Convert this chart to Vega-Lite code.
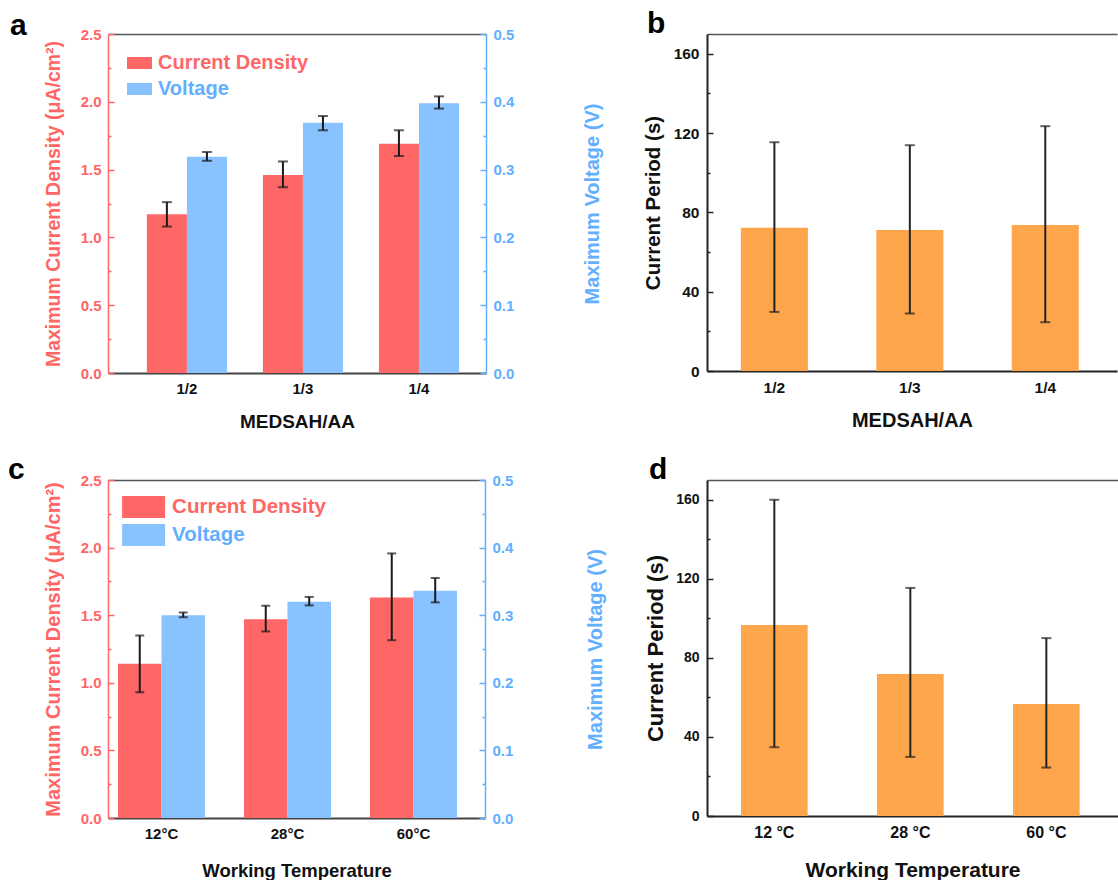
{
  "$schema": "https://vega.github.io/schema/vega-lite/v6.json",
  "padding": {"left": 8, "top": 9, "right": 0, "bottom": 0},
  "config": {"font": "Liberation Sans", "view": {"stroke": null}, "axis": {"grid": false}},
  "datasets": {
    "ab": [
      {"ratio": "1/2", "series": "Current Density", "value": 1.17, "lo": 1.08, "hi": 1.26},
      {"ratio": "1/2", "series": "Voltage", "value": 0.319, "lo": 0.313, "hi": 0.326},
      {"ratio": "1/3", "series": "Current Density", "value": 1.46, "lo": 1.37, "hi": 1.56},
      {"ratio": "1/3", "series": "Voltage", "value": 0.369, "lo": 0.358, "hi": 0.379},
      {"ratio": "1/4", "series": "Current Density", "value": 1.69, "lo": 1.6, "hi": 1.79},
      {"ratio": "1/4", "series": "Voltage", "value": 0.398, "lo": 0.39, "hi": 0.408}
    ],
    "p1": [
      {"ratio": "1/2", "value": 72.3, "lo": 29.8, "hi": 115.4},
      {"ratio": "1/3", "value": 71.1, "lo": 29.0, "hi": 113.9},
      {"ratio": "1/4", "value": 73.6, "lo": 24.6, "hi": 123.5}
    ],
    "cd": [
      {"temp": "12°C", "series": "Current Density", "value": 1.14, "lo": 0.93, "hi": 1.35},
      {"temp": "12°C", "series": "Voltage", "value": 0.3, "lo": 0.297, "hi": 0.304},
      {"temp": "28°C", "series": "Current Density", "value": 1.47, "lo": 1.38, "hi": 1.57},
      {"temp": "28°C", "series": "Voltage", "value": 0.32, "lo": 0.3145, "hi": 0.327},
      {"temp": "60°C", "series": "Current Density", "value": 1.63, "lo": 1.315, "hi": 1.957},
      {"temp": "60°C", "series": "Voltage", "value": 0.336, "lo": 0.319, "hi": 0.355}
    ],
    "p2": [
      {"temp": "12 °C", "value": 96.7, "lo": 34.8, "hi": 160},
      {"temp": "28 °C", "value": 71.9, "lo": 29.9, "hi": 115.4},
      {"temp": "60 °C", "value": 56.7, "lo": 24.5, "hi": 90}
    ]
  },
  "resolve": {"scale": {"color": "independent", "x": "independent", "y": "independent", "xOffset": "independent"}, "legend": {"color": "independent"}},
  "spacing": 24,
  "vconcat": [
    {
      "spacing": 40,
      "resolve": {"scale": {"color": "independent", "x": "independent", "y": "independent", "xOffset": "independent"}, "legend": {"color": "independent"}},
      "hconcat": [
        {
          "width": 378, "height": 339,
          "title": {"text": "a", "anchor": "start", "frame": "group", "fontSize": 30, "fontWeight": "bold", "color": "#000", "dx": -98, "baseline": "alphabetic", "offset": -38},
          "data": {"name": "ab"},
          "resolve": {"scale": {"y": "independent"}, "axis": {"x": "independent", "y": "independent"}},
          "layer": [
            {
              "transform": [{"filter": "datum.series === 'Current Density'"}],
              "encoding": {
                "x": {"field": "ratio", "type": "nominal", "sort": ["1/2", "1/3", "1/4"], "scale": {"paddingInner": 0.31, "paddingOuter": 0.284, "align": 0.59},
                  "axis": {"orient": "bottom", "title": "MEDSAH/AA", "labelAngle": 0, "ticks": false, "labelPadding": 8, "labelFontSize": 15, "labelFontWeight": "bold", "labelColor": "#111", "domainColor": "#444", "domainWidth": 2, "titleFontSize": 19, "titleFontWeight": "bold", "titleColor": "#111", "titlePadding": 16}},
                "xOffset": {"field": "series", "type": "nominal", "scale": {"domain": ["Current Density", "Voltage"]}}
              },
              "layer": [
                {
                  "mark": {"type": "bar"},
                  "encoding": {
                    "y": {"field": "value", "type": "quantitative", "scale": {"domain": [0, 2.5], "nice": false},
                      "axis": {"orient": "left", "title": "Maximum Current Density  (μA/cm²)", "values": [0, 0.25, 0.5, 0.75, 1, 1.25, 1.5, 1.75, 2, 2.25, 2.5], "labelExpr": "abs(datum.value*2 - round(datum.value*2)) < 0.001 ? format(datum.value, '.1f') : ''", "tickSize": {"condition": {"test": "abs(datum.value*2 - round(datum.value*2)) < 0.001", "value": -6}, "value": -3}, "tickWidth": 1.5, "tickColor": "#FF6666", "domainColor": "#FF6666", "domainWidth": 1.5, "labelColor": "#FF6666", "labelFontSize": 15, "labelFontWeight": "bold", "labelPadding": 13, "titleColor": "#FF6666", "titleFontSize": 19.5, "titleFontWeight": "bold", "titlePadding": 17}},
                    "color": {"field": "series", "type": "nominal", "scale": {"domain": ["Current Density", "Voltage"], "range": ["#FF6666", "#88C2FF"]},
                      "legend": {"orient": "none", "legendX": 19, "legendY": 16.5, "title": null, "direction": "vertical", "symbolType": "M-1,-0.48H1V0.48H-1Z", "symbolSize": 625, "symbolStrokeWidth": 0, "labelFontSize": 20, "labelFontWeight": "bold", "labelOffset": 6, "rowPadding": 3, "padding": 0, "labelLimit": 300,
                        "encode": {"labels": {"update": {"fill": {"signal": "datum.label === 'Voltage' ? '#62AEFF' : '#FF6666'"}}}}}}
                  }
                },
                {"mark": {"type": "rule", "color": "#1a1a1a", "strokeWidth": 2}, "encoding": {"y": {"field": "lo", "type": "quantitative", "scale": {"domain": [0, 2.5], "nice": false},
                      "axis": {"orient": "left", "title": "Maximum Current Density  (μA/cm²)", "values": [0, 0.25, 0.5, 0.75, 1, 1.25, 1.5, 1.75, 2, 2.25, 2.5], "labelExpr": "abs(datum.value*2 - round(datum.value*2)) < 0.001 ? format(datum.value, '.1f') : ''", "tickSize": {"condition": {"test": "abs(datum.value*2 - round(datum.value*2)) < 0.001", "value": -6}, "value": -3}, "tickWidth": 1.5, "tickColor": "#FF6666", "domainColor": "#FF6666", "domainWidth": 1.5, "labelColor": "#FF6666", "labelFontSize": 15, "labelFontWeight": "bold", "labelPadding": 13, "titleColor": "#FF6666", "titleFontSize": 19.5, "titleFontWeight": "bold", "titlePadding": 17}}, "y2": {"field": "hi"}}},
                {"mark": {"type": "tick", "color": "#1a1a1a", "thickness": 2, "size": 10}, "encoding": {"y": {"field": "lo", "type": "quantitative", "scale": {"domain": [0, 2.5], "nice": false},
                      "axis": {"orient": "left", "title": "Maximum Current Density  (μA/cm²)", "values": [0, 0.25, 0.5, 0.75, 1, 1.25, 1.5, 1.75, 2, 2.25, 2.5], "labelExpr": "abs(datum.value*2 - round(datum.value*2)) < 0.001 ? format(datum.value, '.1f') : ''", "tickSize": {"condition": {"test": "abs(datum.value*2 - round(datum.value*2)) < 0.001", "value": -6}, "value": -3}, "tickWidth": 1.5, "tickColor": "#FF6666", "domainColor": "#FF6666", "domainWidth": 1.5, "labelColor": "#FF6666", "labelFontSize": 15, "labelFontWeight": "bold", "labelPadding": 13, "titleColor": "#FF6666", "titleFontSize": 19.5, "titleFontWeight": "bold", "titlePadding": 17}}}},
                {"mark": {"type": "tick", "color": "#1a1a1a", "thickness": 2, "size": 10}, "encoding": {"y": {"field": "hi", "type": "quantitative", "scale": {"domain": [0, 2.5], "nice": false},
                      "axis": {"orient": "left", "title": "Maximum Current Density  (μA/cm²)", "values": [0, 0.25, 0.5, 0.75, 1, 1.25, 1.5, 1.75, 2, 2.25, 2.5], "labelExpr": "abs(datum.value*2 - round(datum.value*2)) < 0.001 ? format(datum.value, '.1f') : ''", "tickSize": {"condition": {"test": "abs(datum.value*2 - round(datum.value*2)) < 0.001", "value": -6}, "value": -3}, "tickWidth": 1.5, "tickColor": "#FF6666", "domainColor": "#FF6666", "domainWidth": 1.5, "labelColor": "#FF6666", "labelFontSize": 15, "labelFontWeight": "bold", "labelPadding": 13, "titleColor": "#FF6666", "titleFontSize": 19.5, "titleFontWeight": "bold", "titlePadding": 17}}}}
              ]
            },
            {
              "transform": [{"filter": "datum.series === 'Voltage'"}],
              "encoding": {
                "x": {"field": "ratio", "type": "nominal", "sort": ["1/2", "1/3", "1/4"], "scale": {"paddingInner": 0.31, "paddingOuter": 0.284, "align": 0.59},
                  "axis": {"orient": "top", "labels": false, "ticks": false, "title": null, "domainColor": "#555", "domainWidth": 1.5}},
                "xOffset": {"field": "series", "type": "nominal", "scale": {"domain": ["Current Density", "Voltage"]}}
              },
              "layer": [
                {
                  "mark": {"type": "bar"},
                  "encoding": {
                    "y": {"field": "value", "type": "quantitative", "scale": {"domain": [0, 0.5], "nice": false},
                      "axis": {"orient": "right", "title": "Maximum Voltage (V)", "titleAngle": 270, "values": [0, 0.05, 0.1, 0.15, 0.2, 0.25, 0.3, 0.35, 0.4, 0.45, 0.5], "labelExpr": "abs(datum.value*10 - round(datum.value*10)) < 0.001 ? format(datum.value, '.1f') : ''", "tickSize": {"condition": {"test": "abs(datum.value*10 - round(datum.value*10)) < 0.001", "value": -6}, "value": -3}, "tickWidth": 1.5, "tickColor": "#62AEFF", "domainColor": "#62AEFF", "domainWidth": 1.5, "labelColor": "#62AEFF", "labelFontSize": 15, "labelFontWeight": "bold", "labelPadding": 13, "titleColor": "#62AEFF", "titleFontSize": 20, "titleFontWeight": "bold", "titlePadding": 89}},
                    "color": {"field": "series", "type": "nominal", "scale": {"domain": ["Current Density", "Voltage"], "range": ["#FF6666", "#88C2FF"]},
                      "legend": {"orient": "none", "legendX": 19, "legendY": 16.5, "title": null, "direction": "vertical", "symbolType": "M-1,-0.48H1V0.48H-1Z", "symbolSize": 625, "symbolStrokeWidth": 0, "labelFontSize": 20, "labelFontWeight": "bold", "labelOffset": 6, "rowPadding": 3, "padding": 0, "labelLimit": 300,
                        "encode": {"labels": {"update": {"fill": {"signal": "datum.label === 'Voltage' ? '#62AEFF' : '#FF6666'"}}}}}}
                  }
                },
                {"mark": {"type": "rule", "color": "#1a1a1a", "strokeWidth": 2}, "encoding": {"y": {"field": "lo", "type": "quantitative", "scale": {"domain": [0, 0.5], "nice": false},
                      "axis": {"orient": "right", "title": "Maximum Voltage (V)", "titleAngle": 270, "values": [0, 0.05, 0.1, 0.15, 0.2, 0.25, 0.3, 0.35, 0.4, 0.45, 0.5], "labelExpr": "abs(datum.value*10 - round(datum.value*10)) < 0.001 ? format(datum.value, '.1f') : ''", "tickSize": {"condition": {"test": "abs(datum.value*10 - round(datum.value*10)) < 0.001", "value": -6}, "value": -3}, "tickWidth": 1.5, "tickColor": "#62AEFF", "domainColor": "#62AEFF", "domainWidth": 1.5, "labelColor": "#62AEFF", "labelFontSize": 15, "labelFontWeight": "bold", "labelPadding": 13, "titleColor": "#62AEFF", "titleFontSize": 20, "titleFontWeight": "bold", "titlePadding": 89}}, "y2": {"field": "hi"}}},
                {"mark": {"type": "tick", "color": "#1a1a1a", "thickness": 2, "size": 10}, "encoding": {"y": {"field": "lo", "type": "quantitative", "scale": {"domain": [0, 0.5], "nice": false},
                      "axis": {"orient": "right", "title": "Maximum Voltage (V)", "titleAngle": 270, "values": [0, 0.05, 0.1, 0.15, 0.2, 0.25, 0.3, 0.35, 0.4, 0.45, 0.5], "labelExpr": "abs(datum.value*10 - round(datum.value*10)) < 0.001 ? format(datum.value, '.1f') : ''", "tickSize": {"condition": {"test": "abs(datum.value*10 - round(datum.value*10)) < 0.001", "value": -6}, "value": -3}, "tickWidth": 1.5, "tickColor": "#62AEFF", "domainColor": "#62AEFF", "domainWidth": 1.5, "labelColor": "#62AEFF", "labelFontSize": 15, "labelFontWeight": "bold", "labelPadding": 13, "titleColor": "#62AEFF", "titleFontSize": 20, "titleFontWeight": "bold", "titlePadding": 89}}}},
                {"mark": {"type": "tick", "color": "#1a1a1a", "thickness": 2, "size": 10}, "encoding": {"y": {"field": "hi", "type": "quantitative", "scale": {"domain": [0, 0.5], "nice": false},
                      "axis": {"orient": "right", "title": "Maximum Voltage (V)", "titleAngle": 270, "values": [0, 0.05, 0.1, 0.15, 0.2, 0.25, 0.3, 0.35, 0.4, 0.45, 0.5], "labelExpr": "abs(datum.value*10 - round(datum.value*10)) < 0.001 ? format(datum.value, '.1f') : ''", "tickSize": {"condition": {"test": "abs(datum.value*10 - round(datum.value*10)) < 0.001", "value": -6}, "value": -3}, "tickWidth": 1.5, "tickColor": "#62AEFF", "domainColor": "#62AEFF", "domainWidth": 1.5, "labelColor": "#62AEFF", "labelFontSize": 15, "labelFontWeight": "bold", "labelPadding": 13, "titleColor": "#62AEFF", "titleFontSize": 20, "titleFontWeight": "bold", "titlePadding": 89}}}}
              ]
            }
          ]
        },
        {
          "width": 410, "height": 337,
          "title": {"text": "b", "anchor": "start", "frame": "group", "fontSize": 30, "fontWeight": "bold", "color": "#000", "dx": -60, "baseline": "alphabetic", "offset": -29},
          "data": {"name": "p1"},
          "resolve": {"axis": {"x": "independent"}},
          "encoding": {
            "y": {"field": "value", "type": "quantitative", "scale": {"domain": [0, 170], "nice": false},
              "axis": {"orient": "left", "title": "Current Period (s)", "values": [0, 20, 40, 60, 80, 100, 120, 140, 160], "labelExpr": "datum.value % 40 === 0 ? datum.label : ''", "tickSize": {"condition": {"test": "datum.value % 40 === 0", "value": -6}, "value": -3}, "tickWidth": 1.5, "tickColor": "#222", "domainColor": "#222", "domainWidth": 2, "labelColor": "#111", "labelFontSize": 15.5, "labelFontWeight": "bold", "labelPadding": 14, "titleColor": "#111", "titleFontSize": 20.5, "titleFontWeight": "bold", "titlePadding": 10}}
          },
          "layer": [
            {
              "mark": {"type": "bar", "color": "#FFA64D"},
              "encoding": {
                "x": {"field": "ratio", "type": "nominal", "sort": ["1/2", "1/3", "1/4"], "scale": {"paddingInner": 0.505, "paddingOuter": 0.266, "align": 0.47},
                  "axis": {"orient": "bottom", "title": "MEDSAH/AA", "labelAngle": 0, "ticks": false, "labelPadding": 9, "labelFontSize": 15.5, "labelFontWeight": "bold", "labelColor": "#111", "domainColor": "#222", "domainWidth": 2, "titleFontSize": 20, "titleFontWeight": "bold", "titleColor": "#111", "titlePadding": 15}}
              }
            },
            {
              "encoding": {
                "x": {"field": "ratio", "type": "nominal", "sort": ["1/2", "1/3", "1/4"], "scale": {"paddingInner": 0.505, "paddingOuter": 0.266, "align": 0.47},
                  "axis": {"orient": "top", "labels": false, "ticks": false, "title": null, "domainColor": "#555", "domainWidth": 1.5}},
                "y": {"field": "lo", "type": "quantitative", "scale": {"domain": [0, 170], "nice": false},
                  "axis": {"orient": "left", "title": "Current Period (s)", "values": [0, 20, 40, 60, 80, 100, 120, 140, 160], "labelExpr": "datum.value % 40 === 0 ? datum.label : ''", "tickSize": {"condition": {"test": "datum.value % 40 === 0", "value": -6}, "value": -3}, "tickWidth": 1.5, "tickColor": "#222", "domainColor": "#222", "domainWidth": 2, "labelColor": "#111", "labelFontSize": 15.5, "labelFontWeight": "bold", "labelPadding": 14, "titleColor": "#111", "titleFontSize": 20.5, "titleFontWeight": "bold", "titlePadding": 10}}
              },
              "layer": [
                {"mark": {"type": "rule", "color": "#222", "strokeWidth": 2}, "encoding": {"y2": {"field": "hi"}}},
                {"mark": {"type": "tick", "color": "#222", "thickness": 2, "size": 10}},
                {"mark": {"type": "tick", "color": "#222", "thickness": 2, "size": 10}, "encoding": {"y": {"field": "hi", "type": "quantitative", "scale": {"domain": [0, 170], "nice": false},
                  "axis": {"orient": "left", "title": "Current Period (s)", "values": [0, 20, 40, 60, 80, 100, 120, 140, 160], "labelExpr": "datum.value % 40 === 0 ? datum.label : ''", "tickSize": {"condition": {"test": "datum.value % 40 === 0", "value": -6}, "value": -3}, "tickWidth": 1.5, "tickColor": "#222", "domainColor": "#222", "domainWidth": 2, "labelColor": "#111", "labelFontSize": 15.5, "labelFontWeight": "bold", "labelPadding": 14, "titleColor": "#111", "titleFontSize": 20.5, "titleFontWeight": "bold", "titlePadding": 10}}}}
              ]
            }
          ]
        }
      ]
    },
    {
      "spacing": 38,
      "resolve": {"scale": {"color": "independent", "x": "independent", "y": "independent", "xOffset": "independent"}, "legend": {"color": "independent"}},
      "hconcat": [
        {
          "width": 377, "height": 338,
          "title": {"text": "c", "anchor": "start", "frame": "group", "fontSize": 30, "fontWeight": "bold", "color": "#000", "dx": -100, "baseline": "alphabetic", "offset": -36},
          "data": {"name": "cd"},
          "resolve": {"scale": {"y": "independent"}, "axis": {"x": "independent", "y": "independent"}},
          "layer": [
            {
              "transform": [{"filter": "datum.series === 'Current Density'"}],
              "encoding": {
                "x": {"field": "temp", "type": "nominal", "sort": ["12°C", "28°C", "60°C"], "scale": {"paddingInner": 0.31, "paddingOuter": 0.151, "align": 0.263},
                  "axis": {"orient": "bottom", "title": "Working Temperature", "labelAngle": 0, "ticks": false, "labelPadding": 8, "labelFontSize": 15, "labelFontWeight": "bold", "labelColor": "#111", "domainColor": "#444", "domainWidth": 2, "titleFontSize": 18.5, "titleFontWeight": "bold", "titleColor": "#111", "titlePadding": 20}},
                "xOffset": {"field": "series", "type": "nominal", "scale": {"domain": ["Current Density", "Voltage"]}}
              },
              "layer": [
                {
                  "mark": {"type": "bar"},
                  "encoding": {
                    "y": {"field": "value", "type": "quantitative", "scale": {"domain": [0, 2.5], "nice": false},
                      "axis": {"orient": "left", "title": "Maximum Current Density (μA/cm²)", "values": [0, 0.25, 0.5, 0.75, 1, 1.25, 1.5, 1.75, 2, 2.25, 2.5], "labelExpr": "abs(datum.value*2 - round(datum.value*2)) < 0.001 ? format(datum.value, '.1f') : ''", "tickSize": {"condition": {"test": "abs(datum.value*2 - round(datum.value*2)) < 0.001", "value": -6}, "value": -3}, "tickWidth": 1.5, "tickColor": "#FF6666", "domainColor": "#FF6666", "domainWidth": 1.5, "labelColor": "#FF6666", "labelFontSize": 15, "labelFontWeight": "bold", "labelPadding": 13, "titleColor": "#FF6666", "titleFontSize": 20, "titleFontWeight": "bold", "titlePadding": 17}},
                    "color": {"field": "series", "type": "nominal", "scale": {"domain": ["Current Density", "Voltage"], "range": ["#FF6666", "#88C2FF"]},
                      "legend": {"orient": "none", "legendX": 23.6, "legendY": 15, "title": null, "direction": "vertical", "symbolType": "M-1.8,-0.92H1.8V0.92H-1.8Z", "symbolSize": 570, "symbolStrokeWidth": 0, "labelFontSize": 20.5, "labelFontWeight": "bold", "labelOffset": 16.5, "rowPadding": 5, "padding": 0, "labelLimit": 300,
                        "encode": {"labels": {"update": {"fill": {"signal": "datum.label === 'Voltage' ? '#62AEFF' : '#FF6666'"}}}}}}
                  }
                },
                {"mark": {"type": "rule", "color": "#1a1a1a", "strokeWidth": 2}, "encoding": {"y": {"field": "lo", "type": "quantitative", "scale": {"domain": [0, 2.5], "nice": false},
                      "axis": {"orient": "left", "title": "Maximum Current Density (μA/cm²)", "values": [0, 0.25, 0.5, 0.75, 1, 1.25, 1.5, 1.75, 2, 2.25, 2.5], "labelExpr": "abs(datum.value*2 - round(datum.value*2)) < 0.001 ? format(datum.value, '.1f') : ''", "tickSize": {"condition": {"test": "abs(datum.value*2 - round(datum.value*2)) < 0.001", "value": -6}, "value": -3}, "tickWidth": 1.5, "tickColor": "#FF6666", "domainColor": "#FF6666", "domainWidth": 1.5, "labelColor": "#FF6666", "labelFontSize": 15, "labelFontWeight": "bold", "labelPadding": 13, "titleColor": "#FF6666", "titleFontSize": 20, "titleFontWeight": "bold", "titlePadding": 17}}, "y2": {"field": "hi"}}},
                {"mark": {"type": "tick", "color": "#1a1a1a", "thickness": 2, "size": 9}, "encoding": {"y": {"field": "lo", "type": "quantitative", "scale": {"domain": [0, 2.5], "nice": false},
                      "axis": {"orient": "left", "title": "Maximum Current Density (μA/cm²)", "values": [0, 0.25, 0.5, 0.75, 1, 1.25, 1.5, 1.75, 2, 2.25, 2.5], "labelExpr": "abs(datum.value*2 - round(datum.value*2)) < 0.001 ? format(datum.value, '.1f') : ''", "tickSize": {"condition": {"test": "abs(datum.value*2 - round(datum.value*2)) < 0.001", "value": -6}, "value": -3}, "tickWidth": 1.5, "tickColor": "#FF6666", "domainColor": "#FF6666", "domainWidth": 1.5, "labelColor": "#FF6666", "labelFontSize": 15, "labelFontWeight": "bold", "labelPadding": 13, "titleColor": "#FF6666", "titleFontSize": 20, "titleFontWeight": "bold", "titlePadding": 17}}}},
                {"mark": {"type": "tick", "color": "#1a1a1a", "thickness": 2, "size": 9}, "encoding": {"y": {"field": "hi", "type": "quantitative", "scale": {"domain": [0, 2.5], "nice": false},
                      "axis": {"orient": "left", "title": "Maximum Current Density (μA/cm²)", "values": [0, 0.25, 0.5, 0.75, 1, 1.25, 1.5, 1.75, 2, 2.25, 2.5], "labelExpr": "abs(datum.value*2 - round(datum.value*2)) < 0.001 ? format(datum.value, '.1f') : ''", "tickSize": {"condition": {"test": "abs(datum.value*2 - round(datum.value*2)) < 0.001", "value": -6}, "value": -3}, "tickWidth": 1.5, "tickColor": "#FF6666", "domainColor": "#FF6666", "domainWidth": 1.5, "labelColor": "#FF6666", "labelFontSize": 15, "labelFontWeight": "bold", "labelPadding": 13, "titleColor": "#FF6666", "titleFontSize": 20, "titleFontWeight": "bold", "titlePadding": 17}}}}
              ]
            },
            {
              "transform": [{"filter": "datum.series === 'Voltage'"}],
              "encoding": {
                "x": {"field": "temp", "type": "nominal", "sort": ["12°C", "28°C", "60°C"], "scale": {"paddingInner": 0.31, "paddingOuter": 0.151, "align": 0.263},
                  "axis": {"orient": "top", "labels": false, "ticks": false, "title": null, "domainColor": "#555", "domainWidth": 1.5}},
                "xOffset": {"field": "series", "type": "nominal", "scale": {"domain": ["Current Density", "Voltage"]}}
              },
              "layer": [
                {
                  "mark": {"type": "bar"},
                  "encoding": {
                    "y": {"field": "value", "type": "quantitative", "scale": {"domain": [0, 0.5], "nice": false},
                      "axis": {"orient": "right", "title": "Maximum Voltage (V)", "titleAngle": 270, "values": [0, 0.05, 0.1, 0.15, 0.2, 0.25, 0.3, 0.35, 0.4, 0.45, 0.5], "labelExpr": "abs(datum.value*10 - round(datum.value*10)) < 0.001 ? format(datum.value, '.1f') : ''", "tickSize": {"condition": {"test": "abs(datum.value*10 - round(datum.value*10)) < 0.001", "value": -6}, "value": -3}, "tickWidth": 1.5, "tickColor": "#62AEFF", "domainColor": "#62AEFF", "domainWidth": 1.5, "labelColor": "#62AEFF", "labelFontSize": 15, "labelFontWeight": "bold", "labelPadding": 13, "titleColor": "#62AEFF", "titleFontSize": 20, "titleFontWeight": "bold", "titlePadding": 93}},
                    "color": {"field": "series", "type": "nominal", "scale": {"domain": ["Current Density", "Voltage"], "range": ["#FF6666", "#88C2FF"]},
                      "legend": {"orient": "none", "legendX": 23.6, "legendY": 15, "title": null, "direction": "vertical", "symbolType": "M-1.8,-0.92H1.8V0.92H-1.8Z", "symbolSize": 570, "symbolStrokeWidth": 0, "labelFontSize": 20.5, "labelFontWeight": "bold", "labelOffset": 16.5, "rowPadding": 5, "padding": 0, "labelLimit": 300,
                        "encode": {"labels": {"update": {"fill": {"signal": "datum.label === 'Voltage' ? '#62AEFF' : '#FF6666'"}}}}}}
                  }
                },
                {"mark": {"type": "rule", "color": "#1a1a1a", "strokeWidth": 2}, "encoding": {"y": {"field": "lo", "type": "quantitative", "scale": {"domain": [0, 0.5], "nice": false},
                      "axis": {"orient": "right", "title": "Maximum Voltage (V)", "titleAngle": 270, "values": [0, 0.05, 0.1, 0.15, 0.2, 0.25, 0.3, 0.35, 0.4, 0.45, 0.5], "labelExpr": "abs(datum.value*10 - round(datum.value*10)) < 0.001 ? format(datum.value, '.1f') : ''", "tickSize": {"condition": {"test": "abs(datum.value*10 - round(datum.value*10)) < 0.001", "value": -6}, "value": -3}, "tickWidth": 1.5, "tickColor": "#62AEFF", "domainColor": "#62AEFF", "domainWidth": 1.5, "labelColor": "#62AEFF", "labelFontSize": 15, "labelFontWeight": "bold", "labelPadding": 13, "titleColor": "#62AEFF", "titleFontSize": 20, "titleFontWeight": "bold", "titlePadding": 93}}, "y2": {"field": "hi"}}},
                {"mark": {"type": "tick", "color": "#1a1a1a", "thickness": 2, "size": 9}, "encoding": {"y": {"field": "lo", "type": "quantitative", "scale": {"domain": [0, 0.5], "nice": false},
                      "axis": {"orient": "right", "title": "Maximum Voltage (V)", "titleAngle": 270, "values": [0, 0.05, 0.1, 0.15, 0.2, 0.25, 0.3, 0.35, 0.4, 0.45, 0.5], "labelExpr": "abs(datum.value*10 - round(datum.value*10)) < 0.001 ? format(datum.value, '.1f') : ''", "tickSize": {"condition": {"test": "abs(datum.value*10 - round(datum.value*10)) < 0.001", "value": -6}, "value": -3}, "tickWidth": 1.5, "tickColor": "#62AEFF", "domainColor": "#62AEFF", "domainWidth": 1.5, "labelColor": "#62AEFF", "labelFontSize": 15, "labelFontWeight": "bold", "labelPadding": 13, "titleColor": "#62AEFF", "titleFontSize": 20, "titleFontWeight": "bold", "titlePadding": 93}}}},
                {"mark": {"type": "tick", "color": "#1a1a1a", "thickness": 2, "size": 9}, "encoding": {"y": {"field": "hi", "type": "quantitative", "scale": {"domain": [0, 0.5], "nice": false},
                      "axis": {"orient": "right", "title": "Maximum Voltage (V)", "titleAngle": 270, "values": [0, 0.05, 0.1, 0.15, 0.2, 0.25, 0.3, 0.35, 0.4, 0.45, 0.5], "labelExpr": "abs(datum.value*10 - round(datum.value*10)) < 0.001 ? format(datum.value, '.1f') : ''", "tickSize": {"condition": {"test": "abs(datum.value*10 - round(datum.value*10)) < 0.001", "value": -6}, "value": -3}, "tickWidth": 1.5, "tickColor": "#62AEFF", "domainColor": "#62AEFF", "domainWidth": 1.5, "labelColor": "#62AEFF", "labelFontSize": 15, "labelFontWeight": "bold", "labelPadding": 13, "titleColor": "#62AEFF", "titleFontSize": 20, "titleFontWeight": "bold", "titlePadding": 93}}}}
              ]
            }
          ]
        },
        {
          "width": 411, "height": 336,
          "title": {"text": "d", "anchor": "start", "frame": "group", "fontSize": 30, "fontWeight": "bold", "color": "#000", "dx": -58, "baseline": "alphabetic", "offset": -29},
          "data": {"name": "p2"},
          "resolve": {"axis": {"x": "independent"}},
          "encoding": {
            "y": {"field": "value", "type": "quantitative", "scale": {"domain": [0, 170], "nice": false},
              "axis": {"orient": "left", "title": "Current Period (s)", "values": [0, 20, 40, 60, 80, 100, 120, 140, 160], "labelExpr": "datum.value % 40 === 0 ? datum.label : ''", "tickSize": {"condition": {"test": "datum.value % 40 === 0", "value": -6}, "value": -3}, "tickWidth": 1.5, "tickColor": "#222", "domainColor": "#222", "domainWidth": 2, "labelColor": "#111", "labelFontSize": 14, "labelFontWeight": "bold", "labelPadding": 14, "titleColor": "#111", "titleFontSize": 22, "titleFontWeight": "bold", "titlePadding": 8}}
          },
          "layer": [
            {
              "mark": {"type": "bar", "color": "#FFA64D"},
              "encoding": {
                "x": {"field": "temp", "type": "nominal", "sort": ["12 °C", "28 °C", "60 °C"], "scale": {"paddingInner": 0.51, "paddingOuter": 0.266, "align": 0.47},
                  "axis": {"orient": "bottom", "title": "Working Temperature", "labelAngle": 0, "ticks": false, "labelPadding": 8, "labelFontSize": 16, "labelFontWeight": "bold", "labelColor": "#111", "domainColor": "#222", "domainWidth": 2, "titleFontSize": 21, "titleFontWeight": "bold", "titleColor": "#111", "titlePadding": 19}}
              }
            },
            {
              "encoding": {
                "x": {"field": "temp", "type": "nominal", "sort": ["12 °C", "28 °C", "60 °C"], "scale": {"paddingInner": 0.51, "paddingOuter": 0.266, "align": 0.47},
                  "axis": {"orient": "top", "labels": false, "ticks": false, "title": null, "domainColor": "#555", "domainWidth": 1.5}},
                "y": {"field": "lo", "type": "quantitative", "scale": {"domain": [0, 170], "nice": false},
                  "axis": {"orient": "left", "title": "Current Period (s)", "values": [0, 20, 40, 60, 80, 100, 120, 140, 160], "labelExpr": "datum.value % 40 === 0 ? datum.label : ''", "tickSize": {"condition": {"test": "datum.value % 40 === 0", "value": -6}, "value": -3}, "tickWidth": 1.5, "tickColor": "#222", "domainColor": "#222", "domainWidth": 2, "labelColor": "#111", "labelFontSize": 14, "labelFontWeight": "bold", "labelPadding": 14, "titleColor": "#111", "titleFontSize": 22, "titleFontWeight": "bold", "titlePadding": 8}}
              },
              "layer": [
                {"mark": {"type": "rule", "color": "#222", "strokeWidth": 2}, "encoding": {"y2": {"field": "hi"}}},
                {"mark": {"type": "tick", "color": "#222", "thickness": 2, "size": 10}},
                {"mark": {"type": "tick", "color": "#222", "thickness": 2, "size": 10}, "encoding": {"y": {"field": "hi", "type": "quantitative", "scale": {"domain": [0, 170], "nice": false},
                  "axis": {"orient": "left", "title": "Current Period (s)", "values": [0, 20, 40, 60, 80, 100, 120, 140, 160], "labelExpr": "datum.value % 40 === 0 ? datum.label : ''", "tickSize": {"condition": {"test": "datum.value % 40 === 0", "value": -6}, "value": -3}, "tickWidth": 1.5, "tickColor": "#222", "domainColor": "#222", "domainWidth": 2, "labelColor": "#111", "labelFontSize": 14, "labelFontWeight": "bold", "labelPadding": 14, "titleColor": "#111", "titleFontSize": 22, "titleFontWeight": "bold", "titlePadding": 8}}}}
              ]
            }
          ]
        }
      ]
    }
  ]
}
